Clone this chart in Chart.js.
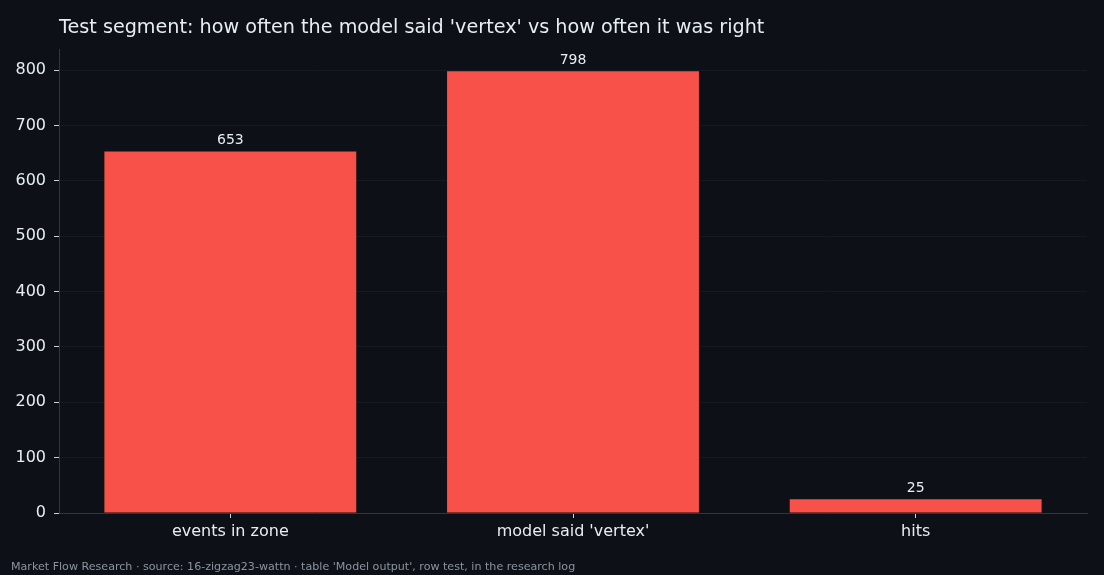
<!DOCTYPE html>
<html>
<head>
<meta charset="utf-8">
<script src="https://cdn.jsdelivr.net/npm/chart.js@4"></script>
<style>
    html, body { margin: 0; padding: 0; background: #0d1117; }
    #wrap { width: 1104px; height: 575px; }
</style>
</head>
<body>
<div id="wrap"><canvas id="barChart" width="1104" height="575"></canvas></div>
<script>
const categories = ['events in zone', "model said 'vertex'", 'hits'];
const counts = [653, 798, 25];
const yTicks = [0, 100, 200, 300, 400, 500, 600, 700, 800];

const titleText = "Test segment: how often the model said 'vertex' vs how often it was right";
const footText = "Market Flow Research \u00b7 source: 16-zigzag23-wattn \u00b7 table 'Model output', row test, in the research log";

const fontFamily = "'DejaVu Sans', sans-serif";

// title, footer and the value labels over each bar
const textPlugin = {
    id: 'textPlugin',
    afterDatasetsDraw(chart) {
        const ctx = chart.ctx;
        const area = chart.chartArea;
        ctx.save();
        ctx.fillStyle = '#e6edf3';
        ctx.font = '19.2px ' + fontFamily;
        ctx.textAlign = 'left';
        ctx.textBaseline = 'middle';
        ctx.fillText(titleText, area.left, 28);

        ctx.fillStyle = '#8b949e';
        ctx.font = '11.1px ' + fontFamily;
        ctx.fillText(footText, 11, 567);

        ctx.fillStyle = '#e6edf3';
        ctx.font = '14px ' + fontFamily;
        ctx.textAlign = 'center';
        ctx.textBaseline = 'bottom';
        chart.getDatasetMeta(0).data.forEach(function (bar, i) {
            ctx.fillText(String(counts[i]), bar.x, bar.y - 4);
        });
        ctx.restore();
    }
};

new Chart(document.getElementById('barChart').getContext('2d'), {
    type: 'bar',
    data: {
        labels: categories,
        datasets: [{
            data: counts,
            backgroundColor: '#f85149',
            borderWidth: 0,
            categoryPercentage: 1.0,
            barPercentage: 0.735
        }]
    },
    options: {
        responsive: false,
        animation: false,
        devicePixelRatio: 1,
        layout: {
            padding: { top: 49, right: 17, bottom: 0, left: 0 }
        },
        plugins: {
            legend: { display: false },
            tooltip: { enabled: false }
        },
        scales: {
            x: {
                grid: {
                    offset: false,
                    drawOnChartArea: false,
                    tickLength: 5,
                    tickColor: '#c9d1d9'
                },
                border: { color: '#30363d', width: 1 },
                ticks: {
                    color: '#e6edf3',
                    font: { family: fontFamily, size: 16 },
                    padding: 4,
                    maxRotation: 0
                },
                afterFit(axis) { axis.height = 62; }
            },
            y: {
                min: 0,
                max: 838,
                grid: {
                    color: '#161b22',
                    tickLength: 5,
                    tickColor: '#c9d1d9'
                },
                border: { color: '#30363d', width: 1 },
                ticks: {
                    color: '#e6edf3',
                    font: { family: fontFamily, size: 16 },
                    padding: 8
                },
                afterBuildTicks(axis) {
                    axis.ticks = yTicks.map(function (v) { return { value: v }; });
                },
                afterFit(axis) { axis.width = 59; }
            }
        }
    },
    plugins: [textPlugin]
});
</script>
</body>
</html>
